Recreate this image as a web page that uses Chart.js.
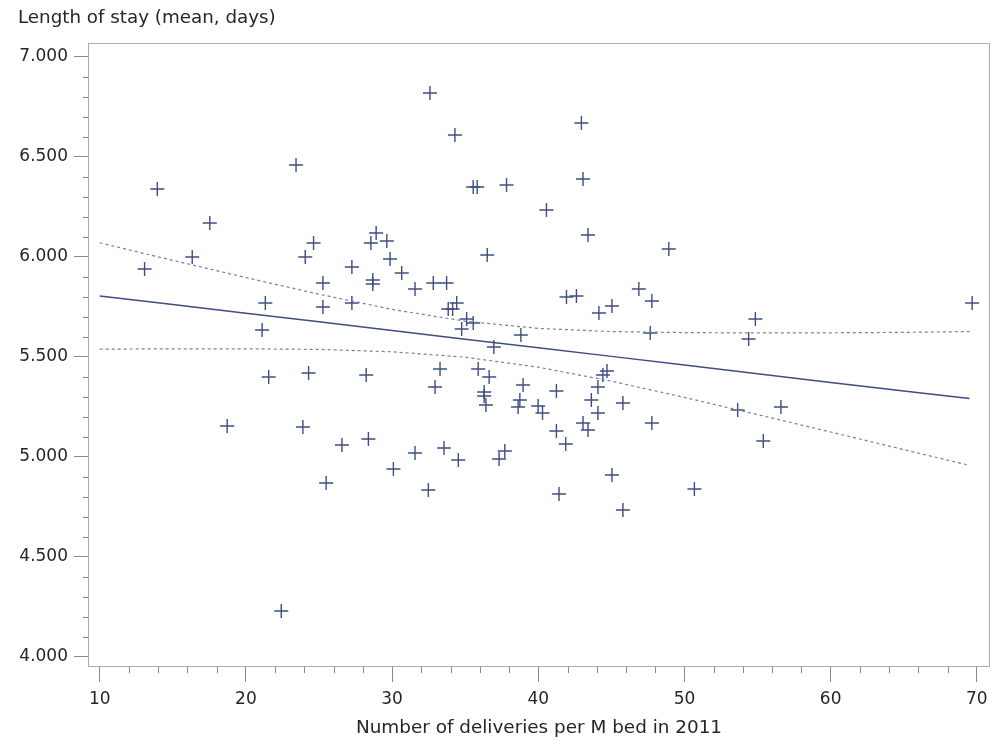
<!DOCTYPE html>
<html>
<head>
<meta charset="utf-8">
<script src="https://cdn.jsdelivr.net/npm/chart.js@4/dist/chart.umd.min.js"></script>
<style>
html,body{margin:0;padding:0;background:#fff;}
canvas{display:block;}
</style>
</head>
<body>
<canvas id="c" width="992" height="746"></canvas>
<script>
// Observations (deliveries per M bed, mean length of stay)
const deliveries = [13.07,13.94,17.53,16.33,23.43,24.63,24.06,21.33,21.11,25.27,25.27,27.25,27.25,28.91,28.55,29.64,28.68,28.68,29.86,30.66,31.57,32.82,33.73,32.59,34.30,35.55,35.82,37.83,42.95,43.06,40.56,43.40,36.51,34.42,33.84,34.14,35.10,35.55,34.76,38.81,36.96,41.93,42.61,44.15,45.04,46.88,48.93,47.77,47.66,54.85,54.39,69.68,24.29,28.23,33.28,32.94,35.89,36.64,36.30,36.30,36.42,38.96,38.74,38.62,39.99,40.29,41.24,41.24,41.88,43.63,44.08,44.42,44.70,44.08,43.06,43.40,45.79,45.04,45.79,41.42,23.90,26.57,28.38,25.49,30.09,31.57,33.55,34.53,32.48,37.32,37.71,21.56,18.72,22.42,47.77,53.64,56.60,55.39,50.68];
const stayMean = [5.94,6.34,6.17,6.00,6.46,6.07,6.00,5.77,5.635,5.87,5.75,5.95,5.77,6.12,6.07,6.08,5.885,5.865,5.99,5.92,5.84,5.87,5.87,6.82,6.61,6.35,6.35,6.36,6.67,6.39,6.235,6.11,6.01,5.77,5.74,5.74,5.69,5.67,5.64,5.61,5.55,5.80,5.805,5.72,5.755,5.84,6.04,5.78,5.62,5.69,5.59,5.77,5.42,5.41,5.44,5.35,5.44,5.40,5.325,5.305,5.26,5.36,5.285,5.25,5.255,5.22,5.33,5.13,5.065,5.285,5.35,5.41,5.43,5.22,5.17,5.135,5.27,4.91,4.735,4.815,5.15,5.06,5.09,4.87,4.94,5.02,5.045,4.985,4.835,4.99,5.03,5.40,5.155,4.23,5.17,5.235,5.25,5.08,4.84];

// Fitted regression line and confidence band
const fitX   = [10, 15, 20, 25, 30, 35, 40, 45, 50, 55, 60, 65, 69.5];
const fitY   = [5.805, 5.762, 5.719, 5.676, 5.632, 5.589, 5.546, 5.503, 5.460, 5.416, 5.373, 5.330, 5.292];
const upperY = [6.071, 5.983, 5.897, 5.814, 5.738, 5.679, 5.643, 5.627, 5.622, 5.620, 5.621, 5.623, 5.627];
const lowerY = [5.539, 5.541, 5.541, 5.538, 5.526, 5.499, 5.449, 5.379, 5.298, 5.212, 5.125, 5.037, 4.958];

// Tick labels
const xTickValues = [10, 20, 30, 40, 50, 60, 70];
const yTickValues = [4.0, 4.5, 5.0, 5.5, 6.0, 6.5, 7.0];

const xTitle = 'Number of deliveries per M bed in 2011';
const yTitle = 'Length of stay (mean, days)';

const NAVY = '#3f4d82';
const BAND = '#7580a8';
const FRAME = '#ababab';
const TICK = '#8a8a8a';
const TEXT = '#262626';
const FONT = 'DejaVu Sans';

const pts = deliveries.map((x, i) => ({x: x, y: stayMean[i]}));
const fitPts = fitX.map((x, i) => ({x: x, y: fitY[i]}));
const upPts = fitX.map((x, i) => ({x: x, y: upperY[i]}));
const loPts = fitX.map((x, i) => ({x: x, y: lowerY[i]}));

const framePlugin = {
  id: 'frameAndMinor',
  afterDraw(chart) {
    const {ctx, chartArea: a, scales} = chart;
    ctx.save();
    ctx.strokeStyle = FRAME;
    ctx.lineWidth = 1;
    ctx.strokeRect(Math.round(a.left) + 0.5, Math.round(a.top) + 0.5,
                   Math.round(a.right - a.left) - 1, Math.round(a.bottom - a.top) - 1);
    // minor ticks
    ctx.strokeStyle = TICK;
    ctx.beginPath();
    for (let k = 40; k <= 70; k++) {
      if (k % 5 === 0) continue;
      const py = Math.round(scales.y.getPixelForValue(k / 10)) + 0.5;
      ctx.moveTo(a.left - 5, py);
      ctx.lineTo(a.left, py);
    }
    for (let v = 10; v <= 70; v += 2) {
      if (v % 10 === 0) continue;
      const px = Math.round(scales.x.getPixelForValue(v)) + 0.5;
      ctx.moveTo(px, a.bottom);
      ctx.lineTo(px, a.bottom + 6);
    }
    ctx.stroke();
    ctx.restore();
  }
};

new Chart(document.getElementById('c'), {
  type: 'scatter',
  data: {
    datasets: [
      {
        label: 'Upper',
        data: upPts,
        showLine: true,
        borderColor: BAND,
        borderWidth: 1.2,
        borderDash: [3, 3],
        pointRadius: 0,
        fill: false
      },
      {
        label: 'Lower',
        data: loPts,
        showLine: true,
        borderColor: BAND,
        borderWidth: 1.2,
        borderDash: [3, 3],
        pointRadius: 0,
        fill: false
      },
      {
        label: 'Fit',
        data: fitPts,
        showLine: true,
        borderColor: NAVY,
        borderWidth: 1.5,
        pointRadius: 0,
        fill: false
      },
      {
        label: 'Observed',
        data: pts,
        showLine: false,
        pointStyle: 'cross',
        pointRadius: 7,
        pointBorderWidth: 1.4,
        borderColor: NAVY,
        backgroundColor: NAVY
      }
    ]
  },
  options: {
    responsive: false,
    animation: false,
    devicePixelRatio: 1,
    layout: {autoPadding: false, padding: {left: 18, right: 2, top: 0, bottom: 0}},
    plugins: {
      legend: {display: false},
      tooltip: {enabled: false},
      title: {
        display: true,
        text: yTitle,
        align: 'start',
        color: TEXT,
        font: {family: FONT, size: 18.3, weight: 'normal'},
        padding: {top: 7, bottom: 14}
      }
    },
    scales: {
      x: {
        type: 'linear',
        min: 9.2,
        max: 70.9,
        afterBuildTicks(scale) { scale.ticks = xTickValues.map(v => ({value: v})); },
        afterFit(scale) { scale.height = 79; scale.paddingRight = 0; scale.paddingLeft = 0; },
        border: {display: false},
        grid: {drawOnChartArea: false, drawTicks: true, tickLength: 15, color: TICK, tickColor: TICK},
        ticks: {
          padding: 7,
          color: TEXT,
          font: {family: FONT, size: 17},
          maxRotation: 0,
          callback: v => String(v)
        },
        title: {
          display: true,
          text: xTitle,
          color: TEXT,
          font: {family: FONT, size: 18.4},
          padding: {top: 0, bottom: 7}
        }
      },
      y: {
        type: 'linear',
        min: 3.95,
        max: 7.07,
        afterBuildTicks(scale) { scale.ticks = yTickValues.map(v => ({value: v})); },
        afterFit(scale) { scale.width = 70; scale.paddingTop = 0; scale.paddingBottom = 0; },
        border: {display: false},
        grid: {drawOnChartArea: false, drawTicks: true, tickLength: 14, color: TICK, tickColor: TICK},
        ticks: {
          padding: 6,
          color: TEXT,
          font: {family: FONT, size: 17},
          callback: v => Number(v).toFixed(3)
        }
      }
    }
  },
  plugins: [framePlugin]
});
</script>
</body>
</html>
